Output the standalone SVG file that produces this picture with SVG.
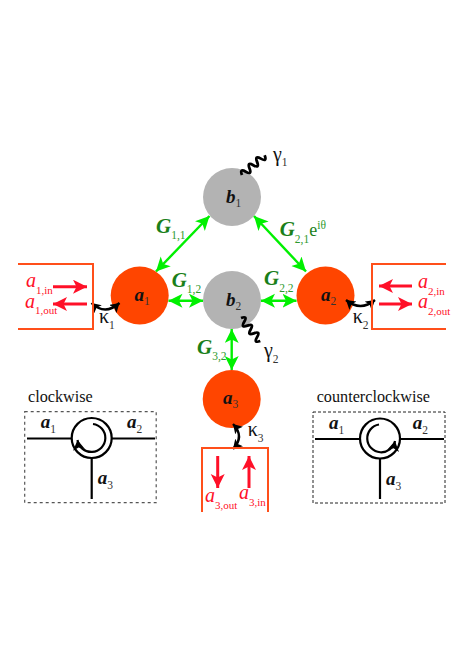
<svg xmlns="http://www.w3.org/2000/svg" width="464" height="655" viewBox="0 0 464 655">
<style>
text{font-family:"Liberation Serif","Times New Roman",serif}
.rn{fill:#ff4500}.gn{fill:#b3b3b3}
.nl{font-size:19px;font-weight:bold;font-style:italic;fill:#111}
.s{font-size:11.500px;font-weight:normal;font-style:normal;fill:#333}
.g{font-size:21px;font-weight:bold;font-style:italic;fill:#1a7f1a}
.gs{font-size:11.500px;font-weight:normal;font-style:normal;fill:#2e9a2e}
.e{font-size:18px;font-weight:normal;font-style:normal;fill:#1a7f1a}
.r{font-size:20px;font-style:italic;fill:#ff1028}
.rs{font-size:11px;font-style:normal;fill:#ff1028}
.k{font-size:20px;fill:#111}
.t{font-size:16.200px;fill:#111}
.box{fill:none;stroke:#ff4f1a;stroke-width:2}
.ga{stroke:#00f000;stroke-width:2.400;fill:none;marker-start:url(#gh);marker-end:url(#gh)}
.ra{stroke:#ff1028;stroke-width:3;fill:none;marker-end:url(#rh)}
.ka{stroke:#000;stroke-width:2.400;fill:none;marker-start:url(#kh);marker-end:url(#kh)}
.w{stroke:#000;stroke-width:2.800;fill:none}
.c{stroke:#000;stroke-width:2.200;fill:none}
</style>
<defs>
<marker id="gh" markerUnits="userSpaceOnUse" markerWidth="16" markerHeight="16" refX="14" refY="7" orient="auto-start-reverse"><path d="M0 0L14 7L0 14L3.500 7Z" fill="#00f000"/></marker>
<marker id="rh" markerUnits="userSpaceOnUse" markerWidth="16" markerHeight="16" refX="14" refY="7" orient="auto"><path d="M0 0L14 7L0 14L3.500 7Z" fill="#ff1028"/></marker>
<marker id="kh" markerUnits="userSpaceOnUse" markerWidth="12" markerHeight="12" refX="9" refY="5.500" orient="auto-start-reverse"><path d="M0 0L9 5.500L0 11L2 5.500Z" fill="#000"/></marker>
<marker id="ch" markerUnits="userSpaceOnUse" markerWidth="14" markerHeight="14" refX="10" refY="6" orient="auto"><path d="M0 0L10 6L0 12L2.500 6Z" fill="#000"/></marker>
</defs>
<g id="node-b1"><circle class="gn" cx="232" cy="197" r="29"/><text class="nl" x="226" y="203">b<tspan class="s" dy="4">1</tspan></text></g>
<g id="node-b2"><circle class="gn" cx="232" cy="300" r="29"/><text class="nl" x="226" y="306">b<tspan class="s" dy="4">2</tspan></text></g>
<g id="node-a1"><circle class="rn" cx="139.700" cy="295.500" r="29"/><text class="nl" x="134.500" y="301">a<tspan class="s" dy="4">1</tspan></text></g>
<g id="node-a2"><circle class="rn" cx="325.500" cy="295.500" r="29"/><text class="nl" x="321" y="301">a<tspan class="s" dy="4">2</tspan></text></g>
<g id="node-a3"><circle class="rn" cx="231.700" cy="399" r="29"/><text class="nl" x="223" y="404">a<tspan class="s" dy="4">3</tspan></text></g>
<g id="connectors">
<path class="ga" d="M209.500 216L156 271.500"/>
<path class="ga" d="M254 216L306 271.500"/>
<path class="ga" d="M168.500 300.700H203"/>
<path class="ga" d="M261 300.700H296.500"/>
<path class="ga" d="M231.700 329V370"/>
<path class="w" transform="translate(242 175) rotate(-41)" d="M0 0q2.500-7 5 0t5 0t5 0t5 0t5 0t5 0"/>
<path class="w" transform="translate(241 318) rotate(50)" d="M0 0q2.500-7 5 0t5 0t5 0t5 0t5 0t5 0"/>
<path class="ka" d="M91.500 303Q105 316 119.500 303"/>
<path class="ka" d="M346 300Q360.500 312 375 300"/>
<path class="ka" d="M233 424Q245 436.500 233 449"/>
<path class="ra" d="M53 286.700H87"/>
<path class="ra" d="M87 304H53"/>
<path class="ra" d="M412 286H379"/>
<path class="ra" d="M379 304H412"/>
<path class="ra" d="M217.700 456V488"/>
<path class="ra" d="M249 488V456"/>
</g>
<g id="box-a1"><path class="box" d="M18 264H93V329H18"/>
<text class="r" x="26" y="287">a<tspan class="rs" dy="7">1,in</tspan></text>
<text class="r" x="25" y="308">a<tspan class="rs" dy="6">1,out</tspan></text></g>
<g id="box-a2"><path class="box" d="M446 264H372V329H446"/>
<text class="r" x="418" y="288">a<tspan class="rs" dy="7">2,in</tspan></text>
<text class="r" x="418" y="308">a<tspan class="rs" dy="7">2,out</tspan></text></g>
<g id="box-a3"><path class="box" d="M202 512V448H268V512"/>
<text class="r" x="205" y="502">a<tspan class="rs" dy="7">3,out</tspan></text>
<text class="r" x="239" y="499">a<tspan class="rs" dy="7">3,in</tspan></text></g>
<g id="labels">
<text class="g" x="156" y="233">G<tspan class="gs" dy="6">1,1</tspan></text>
<text class="g" x="171.700" y="287">G<tspan class="gs" dy="6">1,2</tspan></text>
<text class="g" x="279.700" y="236">G<tspan class="gs" dy="6.500">2,1</tspan><tspan class="e" dy="-6.500">e</tspan><tspan class="gs" dy="-7">iθ</tspan></text>
<text class="g" x="264" y="285">G<tspan class="gs" dy="6.500">2,2</tspan></text>
<text class="g" x="197" y="354">G<tspan class="gs" dy="6">3,2</tspan></text>
<text class="k" x="273" y="161">γ<tspan class="s" dy="5">1</tspan></text>
<text class="k" x="264" y="357">γ<tspan class="s" dy="6">2</tspan></text>
<text class="k" x="99" y="323">κ<tspan class="s" dy="6">1</tspan></text>
<text class="k" x="352.700" y="322.700">κ<tspan class="s" dy="6">2</tspan></text>
<text class="k" x="247.700" y="436">κ<tspan class="s" dy="6">3</tspan></text>
</g>
<g id="clockwise">
<text class="t" x="28" y="401.700">clockwise</text>
<rect x="24.700" y="411.700" width="131.500" height="91" fill="none" stroke="#555" stroke-width="1.200" stroke-dasharray="3 3"/>
<circle class="c" cx="91.700" cy="438" r="20"/>
<path class="c" d="M27 438.500H71.500M112 438.500H155M91.700 458V499"/>
<path class="c" marker-end="url(#ch)" d="M93 424A14 14 0 1 1 77.500 440"/>
<text class="nl" x="40.700" y="428">a<tspan class="s" dy="5">1</tspan></text>
<text class="nl" x="127" y="428">a<tspan class="s" dy="5">2</tspan></text>
<text class="nl" x="97.700" y="484">a<tspan class="s" dy="5">3</tspan></text>
</g>
<g id="counterclockwise">
<text class="t" x="316.700" y="401.700">counterclockwise</text>
<rect x="313" y="412" width="132" height="91" fill="none" stroke="#222" stroke-width="1" stroke-dasharray="3 2"/>
<circle class="c" cx="380" cy="438.500" r="20"/>
<path class="c" d="M315 439H360M400 439H444M380 458.500V499"/>
<path class="c" marker-end="url(#ch)" d="M379 424.500A14 14 0 1 0 395 441"/>
<text class="nl" x="329" y="429">a<tspan class="s" dy="5">1</tspan></text>
<text class="nl" x="412.700" y="429">a<tspan class="s" dy="5">2</tspan></text>
<text class="nl" x="386" y="485">a<tspan class="s" dy="5">3</tspan></text>
</g>
</svg>
